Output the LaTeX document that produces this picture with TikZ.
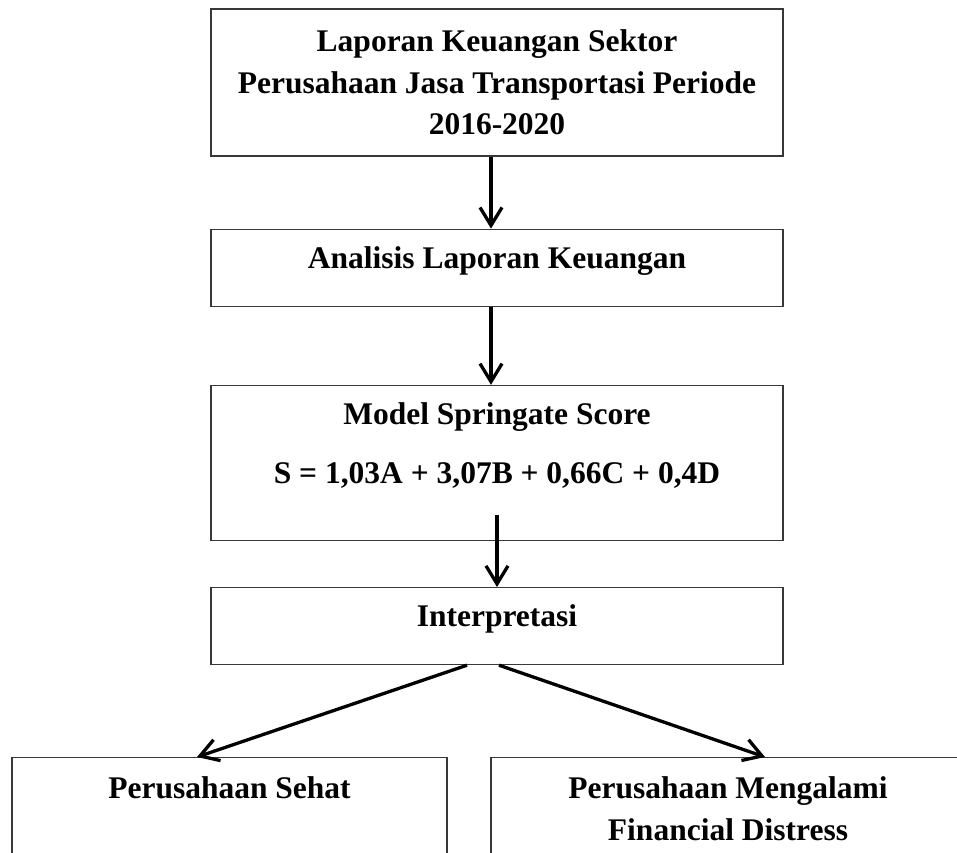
\documentclass[tikz,border=0pt]{standalone}
\usepackage{fontspec}
\setmainfont{Liberation Serif}
\usetikzlibrary{positioning,arrows.meta}
\begin{document}
\begin{tikzpicture}[x=1pt, y=-1pt, font=\fontsize{31.5}{41.5}\selectfont\bfseries,
             box/.style = {draw=black!78, line width=1.2pt, shape=rectangle, minimum width=572pt, inner sep=0pt},
             lbl/.style = {align=center, inner sep=0pt},
             arr/.style = {line width=3.3pt, -{Straight Barb[length=18pt, width=22pt, line width=3.3pt]}}]
\useasboundingbox (0,0) rectangle (957,852);
\clip (0,0) rectangle (957,852);

\node (lap) [box, minimum height=147pt] at (497,82.5) {};
\node (ana) [box, minimum height=77pt, below=72pt of lap] {};
\node (model) [box, minimum height=155pt, below=78pt of ana] {};
\node (interp) [box, minimum height=77pt, below=46pt of model] {};
\node (sehat) [box, minimum width=435pt, minimum height=150pt, anchor=north] at (229.5,757) {};
\node (distress) [box, minimum width=474pt, minimum height=150pt, anchor=north] at (728,757) {};

\node (lap-t) [lbl] at (lap.center) {Laporan Keuangan Sektor\\Perusahaan Jasa Transportasi Periode\\2016-2020};
\node (ana-t) [lbl, anchor=base] at ([yshift=-40pt]ana.north) {Analisis Laporan Keuangan};
\node (model-t) [lbl, anchor=base] at ([yshift=-40pt]model.north) {Model Springate Score};
\node (rumus) [lbl, anchor=base] at ([yshift=-99pt]model.north) {S = 1,03A + 3,07B + 0,66C + 0,4D};
\node (interp-t) [lbl, anchor=base] at ([yshift=-39pt]interp.north) {Interpretasi};
\node (sehat-t) [lbl, anchor=base] at ([yshift=-41pt]sehat.north) {Perusahaan Sehat};
\node (distress-t) [lbl, anchor=north] at ([yshift=-19.5pt]distress.north) {Perusahaan Mengalami\\Financial Distress};

\draw [arr] ([xshift=-6pt]lap.south) -- ([xshift=-6pt]ana.north);
\draw [arr] ([xshift=-6pt]ana.south) -- ([xshift=-6pt]model.north);
\draw [arr] ([yshift=26pt]model.south) -- (interp.north);
\draw [arr] ([xshift=-30pt]interp.south) -- ([xshift=-32.5pt]sehat.north);
\draw [arr] ([xshift=2pt]interp.south) -- ([xshift=37pt]distress.north);
\end{tikzpicture}
\end{document}
